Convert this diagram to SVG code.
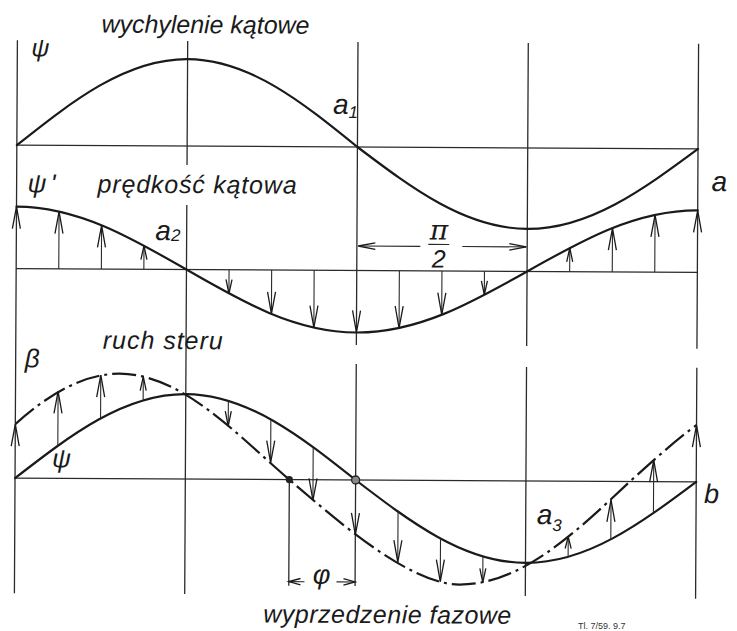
<svg xmlns="http://www.w3.org/2000/svg" width="737" height="631" viewBox="0 0 737 631">
<style>
.frame{stroke:#2a2a2a;stroke-width:1.3;fill:none}
.curve{stroke:#1a1a1a;stroke-width:2.2;fill:none;stroke-linecap:round}
.dashdot{stroke:#1a1a1a;stroke-width:2.2;fill:none;stroke-dasharray:24 5 3 5}
.shaft{stroke:#2a2a2a;stroke-width:1.1;fill:none}
.head{stroke:#1a1a1a;stroke-width:1.3;fill:none;stroke-linejoin:miter}
.lbl{font-family:"Liberation Sans",Arial,sans-serif;font-style:italic;fill:#1a1a1a}
.greek{font-family:"DejaVu Serif","Liberation Serif",serif;font-style:italic;fill:#1a1a1a}
</style>
<defs>
<clipPath id="clipx"><rect x="16" y="300" width="681.2" height="320"/></clipPath>
</defs>
<rect width="737" height="631" fill="#ffffff"/>
<g transform="rotate(0.31 357 300)">
<g id="frame" class="frame">
<path d="M16,42 V595 M186.3,42 V166 M186.3,206 V595 M356.6,42 V345 M356.6,364 V586 M526.9,42 V345 M526.9,366 V595 M697.2,42 V347 M697.2,366 V597"/>
<path d="M16,147 H697.2 M16,270.5 H697.2 M16,480 H697.2 M290.3,480 V586"/>
</g>
<g id="curves">
<path id="psi" class="curve" d="M16,147 C71.5,102.5 124.65,60 186.3,60 C247.95,60 301.1,102.5 356.6,147 C412.1,188.5 465.25,228 526.9,228 C588.55,228 641.7,188.5 697.2,147"/>
<path id="psi-dot" class="curve" d="M16,208.5 C77.65,208.5 130.8,238.8 186.3,270.5 C241.8,302.2 294.95,332.5 356.6,332.5 C418.25,332.5 471.4,302.2 526.9,270.5 C582.4,238.8 635.55,208.5 697.2,208.5"/>
<path id="psi-3" class="curve" d="M16,480 C71.5,436.5 124.65,395 186.3,395 C247.95,395 301.1,436.5 356.6,480 C412.1,522 465.25,562 526.9,562 C588.55,562 641.7,522 697.2,480"/>
<path id="beta" class="dashdot" clip-path="url(#clipx)" d="M16,426 C50,395 85,375 120,375 C181.65,375 235.3,433 290.3,480 C335.3,518 410,584 460.6,584 C522.25,584 575.4,532.7 630.9,480 C686.4,429.3 739.55,381 801.2,381"/>
</g>
<g id="connectors">
<path class="shaft" d="M58.6,270.5 V213.2 M101.2,270.5 V226.7 M143.7,270.5 V246.8 M228.9,270.5 V294.2 M271.5,270.5 V314.3 M314,270.5 V327.8 M399.2,270.5 V327.8 M441.8,270.5 V314.3 M484.3,270.5 V294.2 M569.5,270.5 V246.8 M612.1,270.5 V226.7 M654.6,270.5 V213.2"/>
<path class="head" d="M12,230.5 L16,208.5 L20,230.5 M54.6,235.2 L58.6,213.2 L62.6,235.2 M97.2,248.7 L101.2,226.7 L105.2,248.7 M140.7,260.8 L143.7,246.8 L146.7,260.8 M225.9,280.2 L228.9,294.2 L231.9,280.2 M267.5,292.3 L271.5,314.3 L275.5,292.3 M310,305.8 L314,327.8 L318,305.8 M352.6,310.5 L356.6,332.5 L360.6,310.5 M395.2,305.8 L399.2,327.8 L403.2,305.8 M437.8,292.3 L441.8,314.3 L445.8,292.3 M481.3,280.2 L484.3,294.2 L487.3,280.2 M566.5,260.8 L569.5,246.8 L572.5,260.8 M608.1,248.7 L612.1,226.7 L616.1,248.7 M650.6,235.2 L654.6,213.2 L658.6,235.2 M693.2,230.5 L697.2,208.5 L701.2,230.5"/>
<path class="shaft" d="M58.6,447.5 V393 M101.2,419.9 V376.5 M143.7,401.5 V377.8 M228.9,401.5 V426.8 M271.5,419.9 V463 M314,447.5 V500.5 M399.2,511.4 V562 M441.8,538 V581.2 M484.3,555.8 V581.6 M569.5,555.8 V535.4 M612.1,538 V498.5 M654.6,511.4 V458.6"/>
<path class="head" d="M12,448 L16,426 L20,448 M54.6,415 L58.6,393 L62.6,415 M97.2,398.5 L101.2,376.5 L105.2,398.5 M140.7,391.8 L143.7,377.8 L146.7,391.8 M225.9,411.8 L228.9,426.8 L231.9,411.8 M267.5,441 L271.5,463 L275.5,441 M310,478.5 L314,500.5 L318,478.5 M352.6,513 L356.6,535 L360.6,513 M395.2,540 L399.2,562 L403.2,540 M437.8,559.2 L441.8,581.2 L445.8,559.2 M481.3,567.6 L484.3,581.6 L487.3,567.6 M566.5,547.4 L569.5,535.4 L572.5,547.4 M608.1,520.5 L612.1,498.5 L616.1,520.5 M650.6,480.6 L654.6,458.6 L658.6,480.6 M693.2,445.2 L697.2,423.2 L701.2,445.2"/>
<path class="shaft" d="M358,246 H420 M462,246 H526 M428,244 H449 M290.3,582 H306 M338,582 H356.6"/>
<path class="head" d="M375,242.8 L358,246 L375,249.2 M509,242.8 L526,246 L509,249.2 M302,578.8 L290.3,582 L302,585.2 M345,578.8 L356.6,582 L345,585.2"/>
</g>
<g id="points">
<circle cx="290.3" cy="480" r="3.6" fill="#222"/>
<circle cx="356.6" cy="480" r="4" fill="#8a8a8a" stroke="#222" stroke-width="1.3"/>
</g>
<g id="labels">
<text class="lbl" x="100" y="34" font-size="25" textLength="208" lengthAdjust="spacing">wychylenie kątowe</text>
<text class="lbl" x="97" y="194" font-size="25" textLength="199" lengthAdjust="spacing">prędkość kątowa</text>
<text class="lbl" x="103" y="350" font-size="25" textLength="120" lengthAdjust="spacing">ruch steru</text>
<text class="lbl" x="265" y="623" font-size="25" textLength="248" lengthAdjust="spacing">wyprzedzenie fazowe</text>
<text class="lbl" x="30" y="58" font-size="25">ψ</text>
<text class="lbl" x="27" y="194" font-size="26">ψ<tspan dx="4">'</tspan></text>
<text class="lbl" x="25" y="369" font-size="26">β</text>
<text class="lbl" x="53" y="469" font-size="26">ψ</text>
<text class="lbl" x="711" y="189" font-size="28">a</text>
<text class="lbl" x="705" y="501" font-size="27">b</text>
<text class="lbl" x="332" y="114" font-size="28">a<tspan font-size="17" dy="4">1</tspan></text>
<text class="lbl" x="155" y="241" font-size="28">a<tspan font-size="17" dy="1">2</tspan></text>
<text class="lbl" x="538" y="523" font-size="28">a<tspan font-size="17" dy="7">3</tspan></text>
<text class="greek" x="438.5" y="239" font-size="28" text-anchor="middle">π</text>
<text class="lbl" x="438.5" y="267" font-size="25" text-anchor="middle">2</text>
<text class="lbl" x="323" y="584" font-size="27" text-anchor="middle">φ</text>
</g>
</g>
<text x="578" y="629" font-family="Liberation Sans, Arial, sans-serif" font-size="9" fill="#333">Tl. 7/59. 9.7</text>
</svg>
